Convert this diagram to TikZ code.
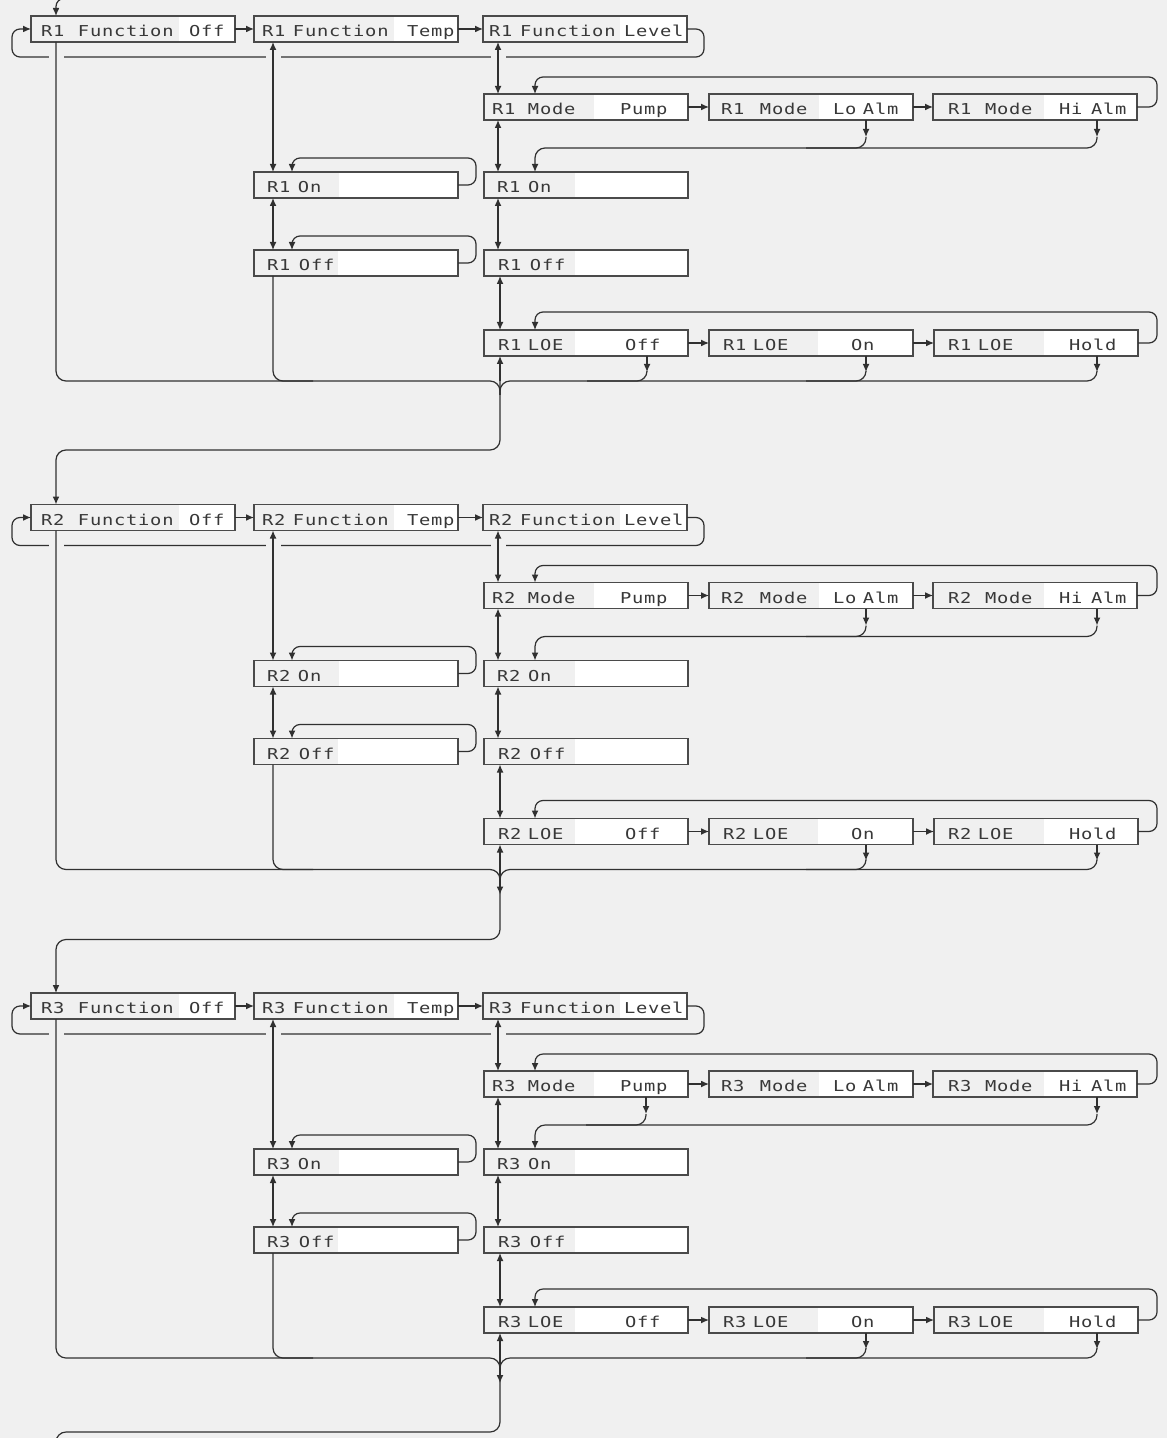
\documentclass[tikz,border=0pt]{standalone}
\usepackage{fontspec}
\newfontfamily\lcdfont[FakeStretch=1.25,LetterSpace=5]{DejaVu Sans Mono}
\usetikzlibrary{arrows.meta,calc}
\definecolor{bgc}{HTML}{F0F0F0}
\definecolor{boxc}{HTML}{4A4A4A}
\definecolor{linec}{HTML}{303030}
\definecolor{txtc}{HTML}{383838}
\tikzset{
  line/.style={draw=linec, line width=0.6pt},
  arr/.style={line, -{Latex[length=4pt,width=3.4pt]}},
  darr/.style={line, {Latex[length=4pt,width=3.4pt]}-{Latex[length=4pt,width=3.4pt]}},
  box/.style={draw=boxc, line width=0.75pt, fill=bgc, minimum width=102pt,
    minimum height=13pt, inner sep=0pt, outer sep=0pt, anchor=north west},
  wf/.style={path picture={\fill[white] ([xshift=#1*0.5pt]path picture bounding box.north west)
    rectangle (path picture bounding box.south east);}},
  txt/.style={anchor=base west, inner sep=0pt, outer sep=0pt,
    font=\lcdfont\fontsize{7.5pt}{9pt}\selectfont, text=txtc},
}
\newcommand\lcdbox[8]{%
  \node[box,wf=#4] (#1) at (#2,#3) {};
  \node[txt] (#1-l) at ($(#1.north west)+(#5,20.5)$) {#6};
  \if\relax\detokenize{#8}\relax\else
  \node[txt] (#1-v) at ($(#1.north west)+(#7,20.5)$) {#8};\fi
}
\begin{document}
\begin{tikzpicture}[x=0.5pt,y=-0.5pt]
\useasboundingbox (0,0) rectangle (1167,1438);
\fill[bgc] (0,0) rectangle (1167,1438);
\clip (0,0) rectangle (1167,1438);

\foreach \n [evaluate=\n as \dy using (\n-1)*488.5] in {1,2,3} {
  \lcdbox{Fa\n}{31}{16+\dy}{148}{10}{\makebox[18.5pt][l]{R\n}Function}{158}{Off}
  \lcdbox{Fb\n}{254}{16+\dy}{140}{8}{\makebox[15.5pt][l]{R\n}Function}{153}{Temp}
  \lcdbox{Fc\n}{483}{16+\dy}{137}{6}{\makebox[15.5pt][l]{R\n}Function}{141}{Level}
  \lcdbox{Ma\n}{484}{94+\dy}{110}{8}{\makebox[18pt][l]{R\n}Mode}{136}{Pump}
  \lcdbox{Mb\n}{709}{94+\dy}{110}{12}{\makebox[19.5pt][l]{R\n}Mode}{124}{\makebox[15pt][l]{Lo}Alm}
  \lcdbox{Mc\n}{933}{94+\dy}{111}{15}{\makebox[18.5pt][l]{R\n}Mode}{126}{\makebox[16pt][l]{Hi}Alm}
  \lcdbox{OnL\n}{254}{172+\dy}{85}{13}{\makebox[15.5pt][l]{R\n}On}{0}{}
  \lcdbox{OnR\n}{484}{172+\dy}{91}{13}{\makebox[15.5pt][l]{R\n}On}{0}{}
  \lcdbox{OffL\n}{254}{250+\dy}{84}{13}{\makebox[16pt][l]{R\n}Off}{0}{}
  \lcdbox{OffR\n}{484}{250+\dy}{91}{14}{\makebox[16pt][l]{R\n}Off}{0}{}
  \lcdbox{La\n}{484}{330+\dy}{91}{14}{\makebox[15pt][l]{R\n}LOE}{141}{Off}
  \lcdbox{Lb\n}{709}{330+\dy}{109}{14}{\makebox[15pt][l]{R\n}LOE}{142}{On}
  \lcdbox{Lc\n}{934}{330+\dy}{110}{14}{\makebox[15pt][l]{R\n}LOE}{135}{Hold}

  % horizontal steps
  \draw[arr] (Fa\n.east) -- (Fb\n.west);
  \draw[arr] (Fb\n.east) -- (Fc\n.west);
  \draw[arr] (Ma\n.east) -- (Mb\n.west);
  \draw[arr] (Mb\n.east) -- (Mc\n.west);
  \draw[arr] (La\n.east) -- (Lb\n.west);
  \draw[arr] (Lb\n.east) -- (Lc\n.west);

  % function loop
  \draw[arr, rounded corners=4pt] (Fc\n.east) -| ($(Fc\n.south east)+(17,15)$)
     -| ($(Fa\n.west)+(-19,0)$) -- (Fa\n.west);
  \foreach \kx in {56,273,498} \fill[bgc] (\kx-7.5, 51+\dy) rectangle (\kx+7.5, 63+\dy);

  % vertical double arrows
  \draw[darr] ($(Fb\n.south west)+(19,0)$) -- ($(OnL\n.north west)+(19,0)$);
  \draw[darr] ($(Fc\n.south west)+(15,0)$) -- ($(Ma\n.north west)+(14,0)$);
  \draw[darr] ($(Ma\n.south west)+(14,0)$) -- ($(OnR\n.north west)+(14,0)$);
  \draw[darr] ($(OnL\n.south west)+(19,0)$) -- ($(OffL\n.north west)+(19,0)$);
  \draw[darr] ($(OnR\n.south west)+(14,0)$) -- ($(OffR\n.north west)+(14,0)$);
  \draw[darr] ($(OffR\n.south west)+(16,0)$) -- ($(La\n.north west)+(16,0)$);

  % mode loop
  \draw[arr, rounded corners=4pt] (Mc\n.east) -| ($(Mc\n.north east)+(20,-17)$)
     -| ($(Ma\n.north west)+(51,0)$);
  % mode -> On
  \ifnum\n=3
    \draw[arr] ($(Ma\n.south west)+(162,0)$) -- ++(0,17) coordinate (ms\n);
  \else
    \draw[arr] ($(Mb\n.south west)+(157,0)$) -- ++(0,17) coordinate (ms\n);
  \fi
  \draw[line, rounded corners=5pt] (ms\n) |- ++(-60,11);
  \draw[arr] ($(Mc\n.south west)+(164,0)$) -- ++(0,17) coordinate (mh\n);
  \draw[arr, rounded corners=5pt] (mh\n) |- ($(OnR\n.north west)+(51,-24)$)
     -- ($(OnR\n.north west)+(51,0)$);

  % left column loops
  \draw[arr, rounded corners=4pt] (OnL\n.east) -| ($(OnL\n.north east)+(18,-14)$)
     -| ($(OnL\n.north west)+(38,0)$);
  \draw[arr, rounded corners=4pt] (OffL\n.east) -| ($(OffL\n.north east)+(18,-14)$)
     -| ($(OffL\n.north west)+(38,0)$);

  % LOE loop
  \draw[arr, rounded corners=4pt] (Lc\n.east) -| ($(Lc\n.north east)+(19,-18)$)
     -| ($(La\n.north west)+(51,0)$);

  % junction
  \coordinate (J\n) at (500, 381+\dy);
  \draw[line, rounded corners=5pt] ($(Fa\n.south west)+(25,0)$) |- (J\n) -- ++(0,14);
  \draw[line, rounded corners=5pt] ($(OffL\n.south west)+(19,0)$) |- ++(40,105);
  \ifnum\n=1
    \draw[arr] ($(La\n.south west)+(163,0)$) -- ++(0,16) coordinate (lo\n);
    \draw[line, rounded corners=5pt] (lo\n) |- ++(-60,9);
  \fi
  \draw[arr] ($(Lb\n.south west)+(157,0)$) -- ++(0,16) coordinate (ln\n);
  \draw[line, rounded corners=5pt] (ln\n) |- ++(-60,9);
  \draw[arr] ($(Lc\n.south west)+(163,0)$) -- ++(0,16) coordinate (lh\n);
  \draw[line, rounded corners=5pt] (lh\n) |- (J\n) -- ++(0,14);
  \draw[arr] (J\n) -- ($(La\n.south west)+(16,0)$);
  \ifnum\n>1
    \draw[arr] (J\n) -- ++(0,25);
  \fi
}

% entry and exits
\coordinate (topin) at (140,-1.5);
\coordinate (botout) at (56,1490);
\draw[arr, rounded corners=4pt] (topin) -| ($(Fa1.north west)+(25,0)$);
\draw[arr, rounded corners=5pt] (J1) -- ++(0,69) -| ($(Fa2.north west)+(25,0)$);
\draw[arr, rounded corners=5pt] (J2) -- ++(0,70) -| ($(Fa3.north west)+(25,0)$);
\draw[line, rounded corners=5pt] (J3) -- ++(0,74) -| (botout);
\end{tikzpicture}
\end{document}
